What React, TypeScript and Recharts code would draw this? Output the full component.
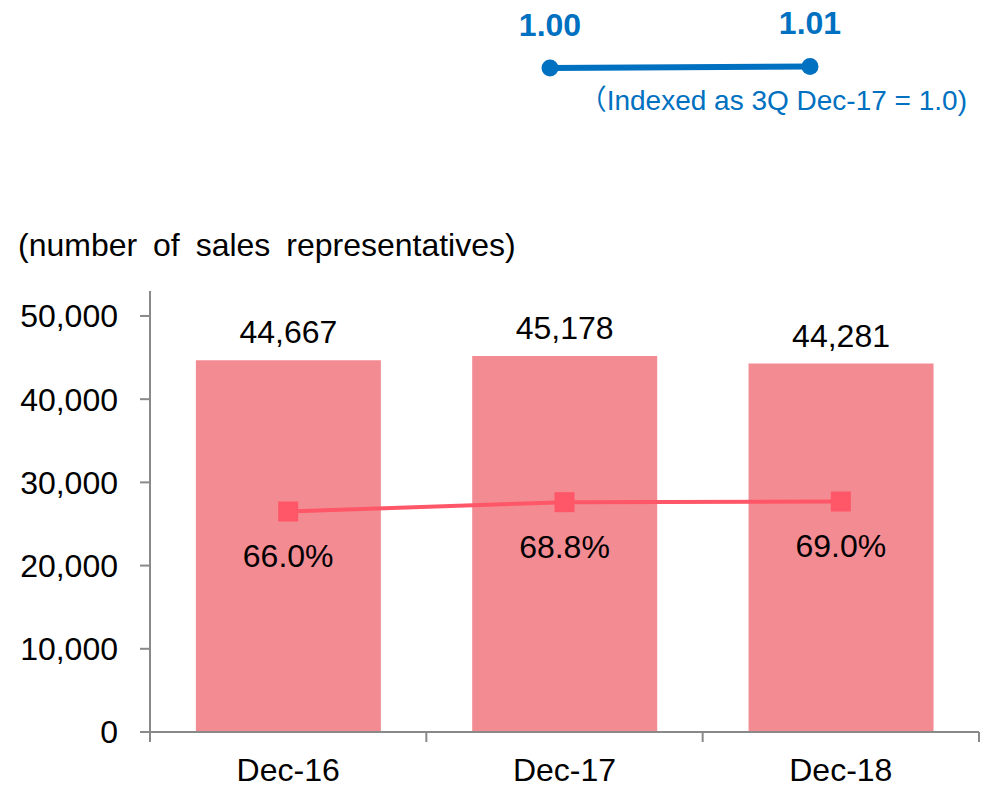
import {
  Bar,
  ComposedChart,
  LabelList,
  Line,
  LineChart,
  XAxis,
  YAxis,
} from "recharts";

const periods = ["Dec-16", "Dec-17", "Dec-18"];
const salesReps = [44667, 45178, 44281];
const shareRates = [66.0, 68.8, 69.0];
const repTicks = [0, 10000, 20000, 30000, 40000, 50000];

const indexPoints = ["Dec-16", "Dec-18"];
const indexValues = [1.0, 1.01];

const font = '"Liberation Sans", Arial, sans-serif';
const axisGray = "#898989";
const barPink = "#F38B93";
const lineRed = "#FF5767";
const blue = "#0070C0";

const chartData = periods.map((period, i) => ({
  period,
  reps: salesReps[i],
  rate: shareRates[i],
}));
const indexData = indexPoints.map((name, i) => ({ name, value: indexValues[i] }));

const numberFormat = new Intl.NumberFormat("en-US");

const X_TICK_SIZE = 8;
const X_TICK_MARGIN = 18;

function SquareDot(props: any) {
  const { cx, cy, index } = props;
  if (cx == null || cy == null) return null;
  return (
    <rect key={`sq-${index}`} x={cx - 10} y={cy - 10} width={20} height={20} fill={lineRed} />
  );
}

// category label plus tick marks on the band edges (not the centres)
function CategoryTick(props: any) {
  const { x, y, payload, index, visibleTicksCount } = props;
  const half = payload?.offset || 829 / periods.length / 2;
  const axisY = y - X_TICK_SIZE - X_TICK_MARGIN;
  const isLast = index === (visibleTicksCount ?? periods.length) - 1;
  return (
    <g>
      <line x1={x - half} x2={x - half} y1={axisY} y2={axisY + 10} stroke={axisGray} strokeWidth={2} />
      {isLast && (
        <line x1={x + half} x2={x + half} y1={axisY} y2={axisY + 10} stroke={axisGray} strokeWidth={2} />
      )}
      <text x={x} y={y} dy="0.71em" textAnchor="middle" fill="#000" fontSize={32} fontFamily={font}>
        {payload.value}
      </text>
    </g>
  );
}

export default function App() {
  return (
    <div style={{ position: "absolute", left: 0, top: 0, width: 989, height: 787, background: "#fff" }}>
      <svg
        width={989}
        height={787}
        style={{ position: "absolute", left: 0, top: 0, pointerEvents: "none" }}
      >
        <text x={967} y={110} textAnchor="end" fill={blue} fontSize={28} fontFamily={`${font}, "Noto Sans CJK JP"`}>
          （Indexed as 3Q Dec-17 = 1.0)
        </text>
        <text x={18} y={256} fill="#000" fontSize={32} fontFamily={font} wordSpacing={7}>
          (number of sales representatives)
        </text>
      </svg>

      <div style={{ position: "absolute", left: 500, top: 0 }}>
        <LineChart width={370} height={100} data={indexData} margin={{ top: 52, right: 60, bottom: 16, left: 50 }}>
          <XAxis dataKey="name" hide />
          <YAxis domain={[0.9, 1.1]} hide />
          <Line
            dataKey="value"
            stroke={blue}
            strokeWidth={6}
            dot={{ r: 8.5, fill: blue, stroke: blue, strokeWidth: 0 }}
            activeDot={false}
            isAnimationActive={false}
          >
            <LabelList
              dataKey="value"
              position="top"
              offset={32}
              formatter={(v: any) => Number(v).toFixed(2)}
              fill={blue}
              fontSize={32}
              fontWeight="bold"
              fontFamily={font}
            />
          </Line>
        </LineChart>
      </div>

      <div style={{ position: "absolute", left: 0, top: 0 }}>
        <ComposedChart
          width={989}
          height={787}
          data={chartData}
          margin={{ top: 291, right: 10, bottom: 0, left: 0 }}
          barCategoryGap="16.6%"
        >
          <XAxis
            dataKey="period"
            axisLine={{ stroke: axisGray, strokeWidth: 2 }}
            tickLine={false}
            tickSize={X_TICK_SIZE}
            tickMargin={X_TICK_MARGIN}
            height={55}
            interval={0}
            tick={<CategoryTick />}
          />
          <YAxis
            yAxisId="reps"
            domain={[0, 53000]}
            ticks={repTicks}
            allowDataOverflow
            width={150}
            tickSize={10}
            tickMargin={22}
            tickFormatter={(v: any) => numberFormat.format(Number(v))}
            tick={{ fill: "#000", fontSize: 32, fontFamily: font }}
            axisLine={{ stroke: axisGray, strokeWidth: 2 }}
            tickLine={{ stroke: axisGray, strokeWidth: 2 }}
          />
          <YAxis yAxisId="rate" orientation="right" domain={[0, 132]} allowDataOverflow hide />
          <Bar yAxisId="reps" dataKey="reps" fill={barPink} isAnimationActive={false}>
            <LabelList
              dataKey="reps"
              position="top"
              offset={17}
              formatter={(v: any) => numberFormat.format(Number(v))}
              fill="#000"
              fontSize={32}
              fontFamily={font}
            />
          </Bar>
          <Line
            yAxisId="rate"
            dataKey="rate"
            stroke={lineRed}
            strokeWidth={4}
            dot={SquareDot}
            activeDot={false}
            isAnimationActive={false}
          >
            <LabelList
              dataKey="rate"
              position="bottom"
              offset={33}
              formatter={(v: any) => `${Number(v).toFixed(1)}%`}
              fill="#000"
              fontSize={32}
              fontFamily={font}
            />
          </Line>
        </ComposedChart>
      </div>
    </div>
  );
}
